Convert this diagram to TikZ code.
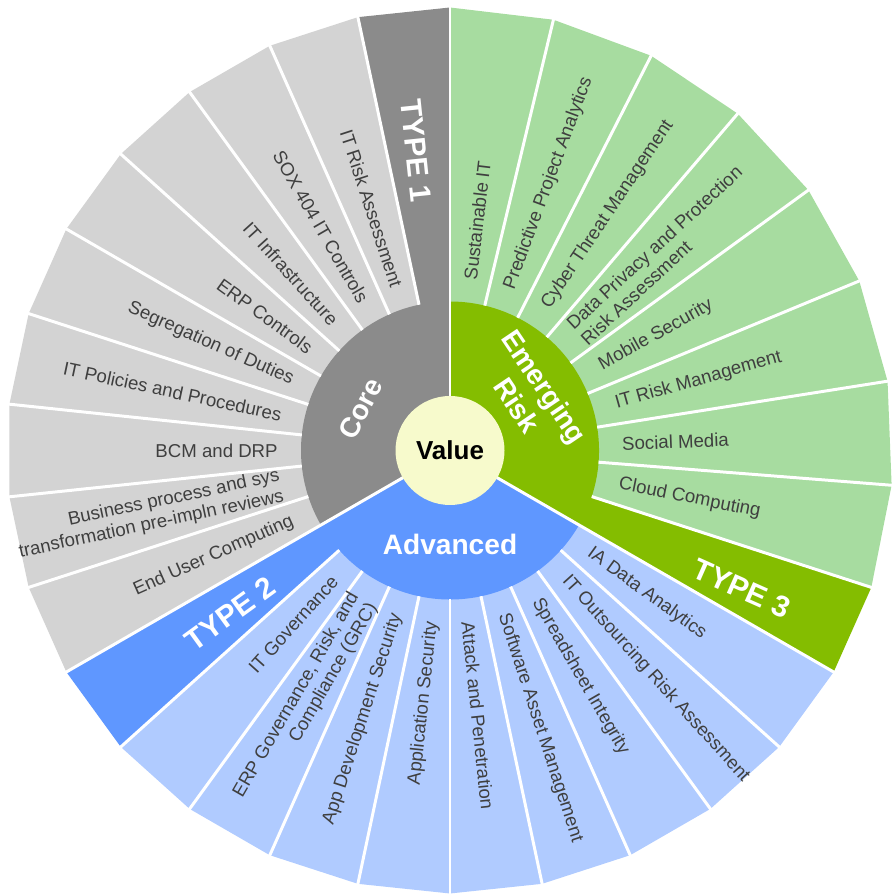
\documentclass[tikz,border=0pt]{standalone}
\usepackage{fontspec}
\setmainfont{Liberation Sans}
\definecolor{coredark}{HTML}{8B8B8B}
\definecolor{corelight}{HTML}{D3D3D3}
\definecolor{riskdark}{HTML}{84BD00}
\definecolor{risklight}{HTML}{A7DCA0}
\definecolor{advdark}{HTML}{5F97FF}
\definecolor{advlight}{HTML}{B0CBFF}
\definecolor{valuefill}{HTML}{F7FACC}
\definecolor{itemgray}{HTML}{3F3F3F}
\tikzset{item/.style={font=\fontsize{10.6}{12}\selectfont, text=itemgray, inner sep=0pt},
         initem/.style={item, anchor=east, align=right},
         outitem/.style={item, anchor=west, align=left},
         typelabel/.style={font=\fontsize{17}{20}\selectfont\bfseries, text=white, inner sep=0pt},
         ringlabel/.style={font=\fontsize{16}{19}\selectfont\bfseries, text=white, inner sep=0pt, align=center},
         gap/.style={draw=white, line width=1.7pt},
        }

\begin{document}
\begin{tikzpicture}
        \useasboundingbox (-9,-8.87) rectangle (8.84,9.01);

        % outer wedges, straight outer edges
        \foreach \a in {102,114,...,198}
            \fill[corelight] (0,0) -- (\a:8.86) -- (\a+12:8.86) -- cycle;
        \foreach \a in {222,234,...,318}
            \fill[advlight] (0,0) -- (\a:8.86) -- (\a+12:8.86) -- cycle;
        \foreach \a in {-18,-4.5,9,22.5,36,49.5,63,76.5}
            \fill[risklight] (0,0) -- (\a:8.86) -- (\a+13.5:8.86) -- cycle;
        \fill[coredark] (0,0) -- (90:8.86) -- (102:8.86) -- cycle;
        \fill[advdark] (0,0) -- (210:8.86) -- (222:8.86) -- cycle;
        \fill[riskdark] (0,0) -- (330:8.86) -- (342:8.86) -- cycle;

        % inner ring
        \fill[coredark] (0,0) -- (90:2.98) arc[start angle=90, end angle=210, radius=2.98] -- cycle;
        \fill[advdark] (0,0) -- (210:2.98) arc[start angle=210, end angle=330, radius=2.98] -- cycle;
        \fill[riskdark] (0,0) -- (-30:2.98) arc[start angle=-30, end angle=90, radius=2.98] -- cycle;

        \foreach \a in {102,114,...,198}
            \draw[gap] (\a:2.98) -- (\a:8.95);
        \foreach \a in {222,234,...,318}
            \draw[gap] (\a:2.98) -- (\a:8.95);
        \foreach \a in {-18,-4.5,9,22.5,36,49.5,63,76.5}
            \draw[gap] (\a:2.98) -- (\a:8.95);
        \foreach \a in {90,210,330}
            \draw[gap] (0,0) -- (\a:8.95);

        \node[circle, fill=valuefill, minimum size=2.18cm, inner sep=0pt,
              font=\fontsize{14.8}{16}\selectfont\bfseries] (value) at (0,0) {Value};

        \node[ringlabel, rotate=62] (core) at (155:1.97) {Core};
        \node[ringlabel, rotate=-56] (emerging) at (34:1.95) {Emerging\\Risk};
        \node[ringlabel] (advanced) at (270:1.88) {Advanced};

        \node[typelabel, rotate=-84] (type1) at (96.5:6.04) {TYPE 1};
        \node[typelabel, rotate=36] (type2) at (216.5:5.48) {TYPE 2};
        \node[typelabel, rotate=-24] (type3) at (-25.3:6.46) {TYPE 3};

        \foreach \a/\t [count=\i] in {108/IT Risk Assessment, 120/SOX 404 IT Controls,
                132/IT Infrastructure, 144/ERP Controls, 156/Segregation of Duties,
                168/IT Policies and Procedures, 180/BCM and DRP, 204/End User Computing}
            \node[initem, rotate=\a-180] (core\i) at (\a:3.44) {\t};
        \node[initem, rotate=12] (core9) at (192:3.44) {Business process and sys\\transformation pre-impln reviews};

        \foreach \a/\t [count=\i] in {228/IT Governance, 252/App Development Security, 264/Application Security}
            \node[initem, rotate=\a-180] (adv\i) at (\a:3.44) {\t};
        \node[initem, rotate=60] (adv4) at (240:3.44) {ERP Governance, Risk, and\\Compliance (GRC)};
        \foreach \a/\t [count=\i from 5] in {276/Attack and Penetration, 288/Software Asset Management,
                300/Spreadsheet Integrity, 312/IT Outsourcing Risk Assessment, 324/IA Data Analytics}
            \node[outitem, rotate=\a] (adv\i) at (\a:3.44) {\t};

        \foreach \a/\t [count=\i] in {-11.25/Cloud Computing, 2.25/Social Media, 15.75/IT Risk Management,
                29.25/Mobile Security, 56.25/Cyber Threat Management, 69.75/Predictive Project Analytics,
                83.25/Sustainable IT}
            \node[outitem, rotate=\a] (risk\i) at (\a:3.44) {\t};
        \node[outitem, rotate=42.75] (risk8) at (42.75:3.44) {Data Privacy and Protection\\Risk Assessment};
\end{tikzpicture}
\end{document}
